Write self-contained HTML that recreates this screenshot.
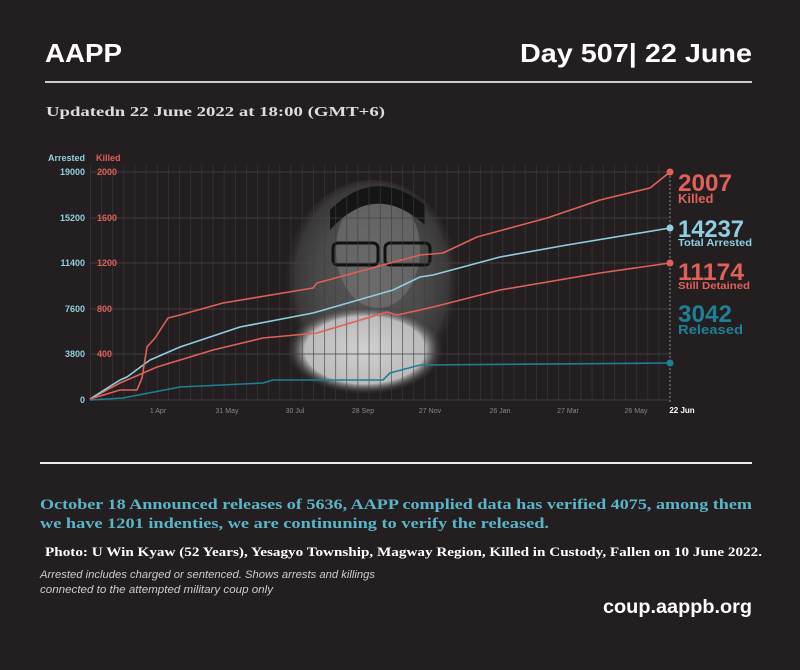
<!DOCTYPE html>
<html><head><style>
html,body{margin:0;padding:0;background:#231f20;}
svg{display:block}
</style></head><body>
<svg width="800" height="670" viewBox="0 0 800 670" xmlns="http://www.w3.org/2000/svg">
<defs>
<radialGradient id="ph" cx="0.5" cy="0.45" r="0.5">
<stop offset="0" stop-color="#5a5a5a"/>
<stop offset="0.6" stop-color="#4a4a4a"/>
<stop offset="0.85" stop-color="#3a3838"/>
<stop offset="1" stop-color="#231f20" stop-opacity="0"/>
</radialGradient>
<radialGradient id="sh" cx="0.5" cy="0.5" r="0.5">
<stop offset="0" stop-color="#d0d0d0"/>
<stop offset="0.75" stop-color="#bbb"/>
<stop offset="1" stop-color="#231f20" stop-opacity="0"/>
</radialGradient>
<pattern id="vg" x="90" y="0" width="11.15" height="10" patternUnits="userSpaceOnUse">
<rect x="0" y="0" width="0.6" height="10" fill="#3e3a3b"/>
</pattern>
</defs>
<rect width="800" height="670" fill="#231f20"/>
<text x="45" y="62" font-family="Liberation Sans, sans-serif" font-weight="bold" font-size="26" fill="#fff" textLength="77" lengthAdjust="spacingAndGlyphs">AAPP</text>
<text x="520" y="62" font-family="Liberation Sans, sans-serif" font-weight="bold" font-size="26" fill="#fff" textLength="232" lengthAdjust="spacingAndGlyphs">Day 507| 22 June</text>
<rect x="45" y="81" width="707" height="2" fill="#ccc"/>
<text x="46" y="116" font-family="Liberation Serif, serif" font-weight="bold" font-size="14" fill="#ddd" textLength="339" lengthAdjust="spacingAndGlyphs">Updatedn 22 June 2022 at 18:00 (GMT+6)</text>

<!-- photo -->
<ellipse cx="372" cy="290" rx="90" ry="110" fill="url(#ph)"/>
<ellipse cx="365" cy="350" rx="80" ry="45" fill="url(#sh)"/>
<ellipse cx="378" cy="250" rx="42" ry="58" fill="#777" opacity="0.6"/>
<rect x="333" y="243" width="45" height="22" rx="5" fill="none" stroke="#111" stroke-width="3"/>
<rect x="385" y="243" width="45" height="22" rx="5" fill="none" stroke="#111" stroke-width="3"/>
<path d="M330 230 Q375 180 425 225 L425 205 Q375 165 330 210Z" fill="#151515"/>

<!-- grid -->
<rect x="90" y="165" width="580" height="235" fill="url(#vg)"/>
<g stroke="#4a4647" stroke-width="0.8">
<line x1="90" y1="172" x2="670" y2="172"/><line x1="90" y1="218" x2="670" y2="218"/>
<line x1="90" y1="263" x2="670" y2="263"/><line x1="90" y1="309" x2="670" y2="309"/>
<line x1="90" y1="354" x2="670" y2="354"/><line x1="90" y1="400" x2="670" y2="400"/>
</g>
<line x1="670" y1="172" x2="670" y2="402" stroke="#888" stroke-dasharray="2,2"/>
<g font-family="Liberation Sans, sans-serif" font-size="9" font-weight="bold">
<text x="48" y="161" fill="#8fcfe0">Arrested</text><text x="96" y="161" fill="#e0605a">Killed</text>
<g fill="#8fcfe0" text-anchor="end"><text x="85" y="175">19000</text><text x="85" y="221">15200</text><text x="85" y="266">11400</text><text x="85" y="312">7600</text><text x="85" y="357">3800</text><text x="85" y="403">0</text></g>
<g fill="#e0605a"><text x="97" y="175">2000</text><text x="97" y="221">1600</text><text x="97" y="266">1200</text><text x="97" y="312">800</text><text x="97" y="357">400</text></g>
</g>
<g font-family="Liberation Sans, sans-serif" font-size="7" fill="#888" text-anchor="middle">
<text x="158" y="413">1 Apr</text><text x="227" y="413">31 May</text><text x="295" y="413">30 Jul</text><text x="363" y="413">28 Sep</text><text x="430" y="413">27 Nov</text><text x="500" y="413">26 Jan</text><text x="568" y="413">27 Mar</text><text x="636" y="413">26 May</text>
<text x="682" y="413" fill="#fff" font-weight="bold" font-size="8">22 Jun</text>
</g>

<g fill="none" stroke-width="1.6" stroke-linejoin="round">
<polyline stroke="#1f7f95" points="90,400 123,398 180,387 263,383 273,380 383,380 390,373 420,365 670,363"/>
<polyline stroke="#e0605a" points="90,399 120,383 157,367 213,350 263,338 317,333 387,312 397,315 420,310 433,307 500,290 600,273 670,263"/>
<polyline stroke="#8fcfe0" points="90,399 120,380 127,377 150,360 180,347 240,327 313,313 393,290 420,277 433,275 500,257 567,245 670,228"/>
<polyline stroke="#e0605a" points="90,399 120,390 137,390 142,378 147,347 155,338 168,318 180,315 223,303 313,288 317,283 420,255 443,253 477,237 547,218 600,200 650,188 670,172"/>
</g>
<circle cx="670" cy="172" r="3.5" fill="#e0605a"/><circle cx="670" cy="228" r="3.5" fill="#8fcfe0"/>
<circle cx="670" cy="263" r="3.5" fill="#e0605a"/><circle cx="670" cy="363" r="3.5" fill="#1f7f95"/>

<g font-family="Liberation Sans, sans-serif" font-weight="bold">
<text x="678" y="191" font-size="24" fill="#e0605a" textLength="54" lengthAdjust="spacingAndGlyphs">2007</text>
<text x="678" y="203" font-size="13" fill="#e0605a">Killed</text>
<text x="678" y="237" font-size="24" fill="#8fcfe0" textLength="66" lengthAdjust="spacingAndGlyphs">14237</text>
<text x="678" y="246" font-size="10" fill="#8fcfe0" textLength="74" lengthAdjust="spacingAndGlyphs">Total Arrested</text>
<text x="678" y="280" font-size="24" fill="#e0605a" textLength="66" lengthAdjust="spacingAndGlyphs">11174</text>
<text x="678" y="289" font-size="10" fill="#e0605a" textLength="72" lengthAdjust="spacingAndGlyphs">Still Detained</text>
<text x="678" y="322" font-size="24" fill="#1f7f95" textLength="54" lengthAdjust="spacingAndGlyphs">3042</text>
<text x="678" y="334" font-size="13" fill="#1f7f95" textLength="65" lengthAdjust="spacingAndGlyphs">Released</text>
</g>

<rect x="40" y="462" width="712" height="2" fill="#eee"/>
<g font-family="Liberation Serif, serif" font-weight="bold">
<text x="40" y="509" font-size="15" fill="#5bb5c8" textLength="712" lengthAdjust="spacingAndGlyphs">October 18 Announced releases of 5636, AAPP complied data has verified 4075, among them</text>
<text x="40" y="528" font-size="15" fill="#5bb5c8" textLength="509" lengthAdjust="spacingAndGlyphs">we have 1201 indenties, we are continuning to verify the released.</text>
<text x="45" y="556" font-size="12.5" fill="#fff" textLength="717" lengthAdjust="spacingAndGlyphs">Photo:  U Win Kyaw (52 Years), Yesagyo Township, Magway Region, Killed in Custody, Fallen on 10 June 2022.</text>
</g>
<g font-family="Liberation Sans, sans-serif" font-style="italic" font-size="11" fill="#ccc">
<text x="40" y="578" textLength="335" lengthAdjust="spacingAndGlyphs">Arrested includes charged or sentenced. Shows arrests and killings</text>
<text x="40" y="593" textLength="233" lengthAdjust="spacingAndGlyphs">connected to the attempted military coup only</text>
</g>
<text x="603" y="613" font-family="Liberation Sans, sans-serif" font-weight="bold" font-size="19" fill="#fff" textLength="149" lengthAdjust="spacingAndGlyphs">coup.aappb.org</text>
</svg>
</body></html>
